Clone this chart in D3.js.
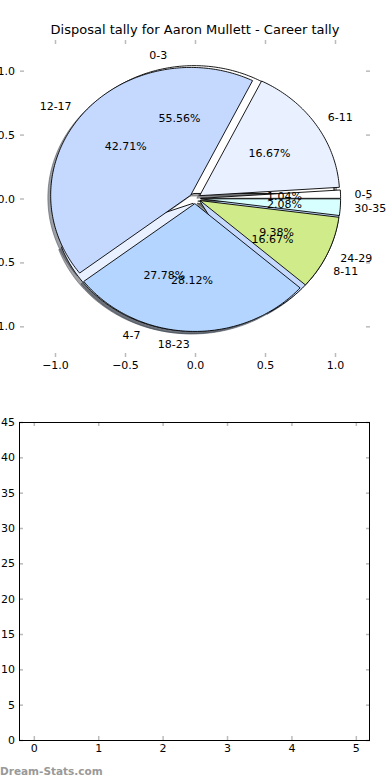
<!DOCTYPE html>
<html>
<head>
<meta charset="utf-8">
<script src="https://cdn.jsdelivr.net/npm/d3@7"></script>
<style>
  body { margin: 0; background: #fff; }
  svg text { font-family: "DejaVu Sans", sans-serif; }
</style>
</head>
<body>
<svg id="chart" width="390" height="780"></svg>
<script>
// chart data
var chartTitle = "Disposal tally for Aaron Mullett - Career tally";
var firstLabels = ["0-3", "4-7", "8-11"];
var firstCounts = [10, 5, 3];
var secondLabels = ["0-5", "6-11", "12-17", "18-23", "24-29", "30-35"];
var secondCounts = [1, 16, 41, 27, 9, 2];
var sliceColors = ["#ffffff", "#e9f0ff", "#c5d9ff", "#b3d5ff", "#d0eb8a", "#d8ffff"];
var pieTicks = [-1.0, -0.5, 0.0, 0.5, 1.0];
var emptyXTicks = [0, 1, 2, 3, 4, 5];
var emptyYTicks = [0, 5, 10, 15, 20, 25, 30, 35, 40, 45];

var explode = 0.04, labelDist = 1.1, pctDist = 0.6, shadowOff = -0.02;
var tickColor = "#bbbbbb";

const svg = d3.select("#chart");

// pie axes (not equal aspect, like the original)
const x = d3.scaleLinear().domain([-1.25, 1.25]).range([20, 370]);
const y = d3.scaleLinear().domain([-1.24, 1.24]).range([357, 40]);

// python style %1.2f (round half to even)
function fmtPct(p) {
  var v = p * 10000;
  var f = Math.floor(v);
  var n = Math.abs(v - f - 0.5) < 1e-9 ? (f % 2 === 0 ? f : f + 1) : Math.round(v);
  return (n / 100).toFixed(2) + "%";
}

function wedgePath(cx, cy, a0, a1, off) {
  var pts = [[cx, cy]];
  var steps = Math.max(2, Math.ceil((a1 - a0) / (Math.PI / 180)));
  for (var i = 0; i <= steps; i++) {
    var a = a0 + (a1 - a0) * i / steps;
    pts.push([cx + Math.cos(a), cy + Math.sin(a)]);
  }
  return d3.line()
    .x(p => x(p[0] + off))
    .y(p => y(p[1] + off))
    .curve(d3.curveLinearClosed)(pts);
}

function buildPie(labels, counts) {
  var total = d3.sum(counts);
  var arcs = d3.pie().sort(null).startAngle(0).endAngle(2 * Math.PI)(counts);
  return arcs.map(function (a, i) {
    var mid = (a.startAngle + a.endAngle) / 2;
    return {
      label: labels[i],
      pct: fmtPct(counts[i] / total),
      a0: a.startAngle, a1: a.endAngle, mid: mid,
      cx: explode * Math.cos(mid), cy: explode * Math.sin(mid),
      color: sliceColors[i % sliceColors.length]
    };
  });
}

const pies = [buildPie(firstLabels, firstCounts), buildPie(secondLabels, secondCounts)];

function shadowColor(d) {
  var c = d3.rgb(d.color);
  return d3.rgb(c.r * 0.3, c.g * 0.3, c.b * 0.3).toString();
}

// shadows go under every wedge
const shadowG = svg.append("g");
pies.forEach(function (pie) {
  shadowG.selectAll(null)
    .data(pie)
    .join("path")
    .attr("d", d => wedgePath(d.cx, d.cy, d.a0, d.a1, shadowOff))
    .attr("fill", shadowColor)
    .attr("fill-opacity", 0.5)
    .attr("stroke", shadowColor)
    .attr("stroke-opacity", 0.5)
    .attr("stroke-width", 1);
});

const wedgeG = svg.append("g");
pies.forEach(function (pie) {
  wedgeG.selectAll(null)
    .data(pie)
    .join("path")
    .attr("d", d => wedgePath(d.cx, d.cy, d.a0, d.a1, 0))
    .attr("fill", d => d.color)
    .attr("stroke", "#000")
    .attr("stroke-width", 0.9);
});

const textG = svg.append("g").style("font-size", "11px");
pies.forEach(function (pie) {
  textG.selectAll(null)
    .data(pie)
    .join("text")
    .attr("x", d => x(d.cx + labelDist * Math.cos(d.mid)))
    .attr("y", d => y(d.cy + labelDist * Math.sin(d.mid)))
    .attr("dy", "0.35em")
    .attr("text-anchor", d => (d.cx + labelDist * Math.cos(d.mid)) > 0 ? "start" : "end")
    .text(d => d.label);

  textG.selectAll(null)
    .data(pie)
    .join("text")
    .attr("x", d => x(d.cx + pctDist * Math.cos(d.mid)))
    .attr("y", d => y(d.cy + pctDist * Math.sin(d.mid)))
    .attr("dy", "0.35em")
    .attr("text-anchor", "middle")
    .text(d => d.pct);
});

// pie axes ticks (no frame)
function styleAxis(g) {
  g.select(".domain").remove();
  g.selectAll(".tick line").attr("stroke", tickColor).attr("stroke-width", 1.5);
  g.selectAll(".tick text").attr("fill", "#000").style("font-size", "11px")
    .style("font-family", "DejaVu Sans, sans-serif");
}
const fmt1 = d3.format(".1f");
svg.append("g").attr("transform", `translate(0,${y.range()[0]})`)
  .call(d3.axisBottom(x).tickValues(pieTicks).tickFormat(fmt1).tickSize(-4).tickPadding(4))
  .call(styleAxis);
svg.append("g").attr("transform", `translate(0,${y.range()[1]})`)
  .call(d3.axisTop(x).tickValues(pieTicks).tickFormat("").tickSize(-4))
  .call(styleAxis);
svg.append("g").attr("transform", `translate(${x.range()[0]},0)`)
  .call(d3.axisLeft(y).tickValues(pieTicks).tickFormat(fmt1).tickSize(-4).tickPadding(5))
  .call(styleAxis);
svg.append("g").attr("transform", `translate(${x.range()[1]},0)`)
  .call(d3.axisRight(y).tickValues(pieTicks).tickFormat("").tickSize(-4))
  .call(styleAxis);

// title
svg.append("text")
  .attr("x", x(0))
  .attr("y", 34)
  .attr("text-anchor", "middle")
  .style("font-size", "13px")
  .text(chartTitle);

// second (empty) axes
const bx = d3.scaleLinear().domain([-0.23, 5.22]).range([19, 370]);
const by = d3.scaleLinear().domain([0, 45]).range([740, 422]);

svg.append("g").attr("transform", `translate(0,${by.range()[0]})`)
  .call(d3.axisBottom(bx).tickValues(emptyXTicks).tickFormat(d3.format("d")).tickSize(-4).tickPadding(4))
  .call(styleAxis);
svg.append("g").attr("transform", `translate(0,${by.range()[1]})`)
  .call(d3.axisTop(bx).tickValues(emptyXTicks).tickFormat("").tickSize(-4))
  .call(styleAxis);
svg.append("g").attr("transform", `translate(${bx.range()[0]},0)`)
  .call(d3.axisLeft(by).tickValues(emptyYTicks).tickFormat(d3.format("d")).tickSize(-4).tickPadding(4))
  .call(styleAxis);
svg.append("g").attr("transform", `translate(${bx.range()[1]},0)`)
  .call(d3.axisRight(by).tickValues(emptyYTicks).tickFormat("").tickSize(-4))
  .call(styleAxis);

svg.append("rect")
  .attr("x", bx.range()[0] + 0.5)
  .attr("y", by.range()[1] + 0.5)
  .attr("width", bx.range()[1] - bx.range()[0] - 1)
  .attr("height", by.range()[0] - by.range()[1])
  .attr("fill", "none")
  .attr("stroke", "#000")
  .attr("stroke-width", 1);

// watermark
svg.append("text")
  .attr("x", 0)
  .attr("y", 775)
  .style("font-size", "10.5px")
  .style("font-weight", "bold")
  .attr("fill", "#999")
  .text("Dream-Stats.com");
</script>
</body>
</html>
